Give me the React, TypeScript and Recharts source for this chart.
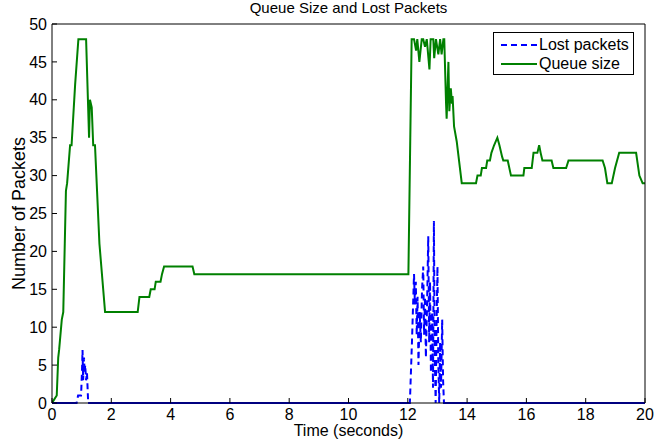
import { Line, LineChart, XAxis, YAxis } from "recharts";

const FONT = "'Liberation Sans', Arial, Helvetica, sans-serif";
const GREEN = "#008000";
const BLUE = "#0000ff";

// queue size samples (seconds, packets)
const queueTime = [
  0, 0.16, 0.21, 0.24, 0.33, 0.38, 0.47, 0.51, 0.61, 0.66, 0.78, 0.89, 1.15,
  1.25, 1.28, 1.34, 1.39, 1.45, 1.6, 1.79, 2.89, 2.95, 3.28, 3.33, 3.46, 3.5,
  3.66, 3.71, 3.78, 4.74, 4.8, 12.02, 12.13, 12.21, 12.28, 12.32, 12.39, 12.47,
  12.52, 12.58, 12.64, 12.73, 12.77, 12.86, 12.89, 12.95, 13.03, 13.09, 13.14,
  13.2, 13.23, 13.29, 13.31, 13.37, 13.4, 13.45, 13.49, 13.51, 13.56, 13.65,
  13.82, 14.3, 14.35, 14.46, 14.5, 14.64, 14.68, 14.77, 14.82, 14.91, 15.02,
  15.09, 15.18, 15.22, 15.37, 15.48, 15.9, 15.93, 16.18, 16.24, 16.37, 16.43,
  16.48, 16.54, 16.85, 16.91, 17.34, 17.42, 18.57, 18.65, 18.73, 18.88, 18.99,
  19.13, 19.7, 19.81, 19.92, 20,
];
const queueSize = [
  0, 1, 6, 7, 11, 12, 28, 29, 34, 34, 42, 48, 48, 35, 40, 39, 34, 34, 21, 12,
  12, 14, 14, 15, 15, 16, 16, 17, 18, 18, 17, 17, 48, 48, 46.5, 48, 45, 48, 48,
  47, 48, 44, 48, 48, 45.5, 48, 46, 48, 46, 48, 48, 39.5, 37.5, 45, 38.5, 41.5,
  39.5, 40.5, 36.5, 34.5, 29, 29, 30, 30, 31, 31, 32, 32, 33, 34, 35, 34, 32.5,
  32, 32, 30, 30, 31, 31, 33, 33, 34, 33, 32, 32, 31, 31, 32, 32, 31, 29, 29,
  31, 33, 33, 30, 29, 29,
];

// lost packets samples
const lostTime = [
  0, 0.83, 0.88, 0.98, 1.01, 1.03, 1.05, 1.08, 1.1, 1.12, 1.15, 1.18, 1.22,
  12.07, 12.14, 12.21, 12.24, 12.27, 12.3, 12.33, 12.36, 12.4, 12.44, 12.48,
  12.52, 12.55, 12.58, 12.61, 12.65, 12.69, 12.72, 12.75, 12.78, 12.82, 12.85,
  12.88, 12.91, 12.94, 12.97, 13.0, 13.03, 13.06, 13.09, 13.12, 13.16, 13.19,
  13.22, 20,
];
const lostCount = [
  0, 0, 1, 1, 4, 7, 3, 6, 4, 5, 3, 4, 0, 0, 8, 17, 13, 16, 9, 14, 5, 12, 8, 15,
  18, 9, 14, 6, 13, 22, 8, 16, 4, 12, 2, 24, 6, 0, 10, 18, 5, 0, 8, 2, 11, 3, 0,
  0,
];

const xTicks = [0, 2, 4, 6, 8, 10, 12, 14, 16, 18, 20];
const yTicks = [0, 5, 10, 15, 20, 25, 30, 35, 40, 45, 50];

const queueData = queueTime.map((t, i) => ({ t, queue: queueSize[i] }));
// long runs of zeros look solid in the original, so draw them twice
const lostData = lostTime.map((t, i) => {
  const v = lostCount[i];
  const flat =
    v === 0 && (lostCount[i - 1] === 0 || lostCount[i + 1] === 0) ? 0 : null;
  return { t, lost: v, flat };
});

const tickStyle = { fontSize: 16, fill: "#000", fontFamily: FONT };

function LegendBox() {
  const row = (dashed: boolean, color: string, text: string) => (
    <div style={{ display: "flex", alignItems: "center", height: 19 }}>
      <svg width={39} height={19} style={{ marginLeft: 6 }}>
        <line
          x1={1}
          y1={10}
          x2={37}
          y2={10}
          stroke={color}
          strokeWidth={2}
          strokeDasharray={dashed ? "6 4" : undefined}
        />
      </svg>
      <span>{text}</span>
    </div>
  );
  return (
    <div
      style={{
        position: "absolute",
        left: 493,
        top: 32,
        width: 141,
        height: 43,
        border: "1px solid #000",
        background: "#fff",
        fontSize: 16,
        lineHeight: "19px",
        paddingTop: 2,
        boxSizing: "border-box",
      }}
    >
      {row(true, BLUE, "Lost packets")}
      {row(false, GREEN, "Queue size")}
    </div>
  );
}

export default function App() {
  return (
    <div
      style={{
        position: "absolute",
        left: 0,
        top: 0,
        width: 654,
        height: 448,
        background: "#fff",
        fontFamily: FONT,
        overflow: "hidden",
      }}
    >
      <div
        style={{
          position: "absolute",
          left: 52,
          top: 0,
          width: 593,
          textAlign: "center",
          fontSize: 15,
          lineHeight: "15px",
        }}
      >
        Queue Size and Lost Packets
      </div>
      <LineChart
        width={654}
        height={448}
        margin={{ top: 0, right: 0, bottom: 0, left: 0 }}
      >
        <XAxis
          xAxisId="b"
          type="number"
          dataKey="t"
          domain={[0, 20]}
          ticks={xTicks}
          height={45}
          tickSize={-5}
          tickMargin={11}
          tick={tickStyle}
          stroke="#000"
          allowDataOverflow
          label={{
            value: "Time (seconds)",
            position: "insideBottom",
            offset: 12,
            style: { fontSize: 16, fill: "#000", fontFamily: FONT },
          }}
        />
        <XAxis
          xAxisId="top"
          orientation="top"
          type="number"
          dataKey="t"
          domain={[0, 20]}
          ticks={xTicks}
          height={24}
          tickSize={-5}
          tick={false}
          stroke="#000"
        />
        <YAxis
          yAxisId="l"
          type="number"
          domain={[0, 50]}
          ticks={yTicks}
          width={52}
          tickSize={-5}
          tickMargin={10}
          tick={tickStyle}
          stroke="#000"
          label={{
            value: "Number of Packets",
            angle: -90,
            position: "insideLeft",
            offset: 19,
            style: {
              fontSize: 18,
              fill: "#000",
              fontFamily: FONT,
              textAnchor: "middle",
            },
          }}
        />
        <YAxis
          yAxisId="r"
          orientation="right"
          type="number"
          domain={[0, 50]}
          ticks={yTicks}
          width={9}
          tickSize={-5}
          tick={false}
          stroke="#000"
        />
        <Line
          xAxisId="b"
          yAxisId="l"
          data={queueData}
          dataKey="queue"
          type="linear"
          stroke={GREEN}
          strokeWidth={2}
          dot={false}
          isAnimationActive={false}
        />
        <Line
          xAxisId="b"
          yAxisId="l"
          data={lostData}
          dataKey="flat"
          type="linear"
          stroke={BLUE}
          strokeWidth={2}
          dot={false}
          connectNulls={false}
          legendType="none"
          isAnimationActive={false}
        />
        <Line
          xAxisId="b"
          yAxisId="l"
          data={lostData}
          dataKey="lost"
          type="linear"
          stroke={BLUE}
          strokeWidth={2}
          strokeDasharray="6 4"
          dot={false}
          isAnimationActive={false}
        />
      </LineChart>
      <LegendBox />
    </div>
  );
}
